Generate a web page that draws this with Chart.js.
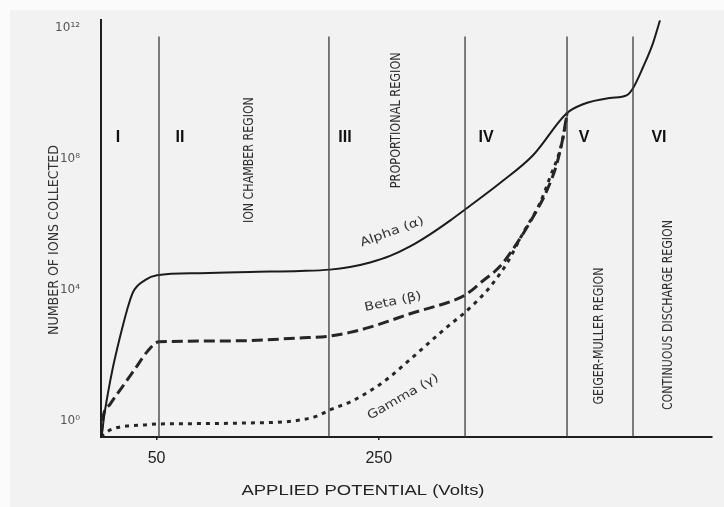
<!DOCTYPE html>
<html>
<head>
<meta charset="utf-8">
<title>Ionization regions of a gas-filled detector</title>
<script src="https://cdn.jsdelivr.net/npm/chart.js@4.4.1/dist/chart.umd.min.js"></script>
<style>
  html, body { margin: 0; padding: 0; background: #f2f2f2; }
  #wrap { width: 724px; height: 507px; }
</style>
</head>
<body>
<div id="wrap"><canvas id="c" width="724" height="507"></canvas></div>
<script>
// Applied potential (volts) and log10 of the number of ions collected, per particle type
const alphaVolts = [0, 0.9, 2.7, 6.3, 10.8, 17.1, 23.4, 28.8, 39.6, 50.4, 89.1, 134.1, 179.1, 206.1, 224.1, 242.2, 260.2, 278.2, 296.2, 314.2, 327.7, 359.2, 388.9, 419.5, 433.9, 458.2, 473.5, 478.9, 487.9, 496.9, 503.2];
const alphaLogIons = [-0.5, -0.38, 0.11, 0.85, 1.64, 2.56, 3.38, 3.93, 4.30, 4.45, 4.51, 4.55, 4.58, 4.62, 4.70, 4.84, 5.04, 5.33, 5.70, 6.12, 6.46, 7.27, 8.12, 9.41, 9.68, 9.87, 9.96, 10.17, 10.81, 11.55, 12.25];

const betaVolts = [0, 1.8, 8.1, 18.9, 30.6, 42.3, 52.2, 118.8, 179.1, 204.3, 224.1, 242.2, 260.2, 278.2, 296.2, 314.2, 327.7, 343.9, 359.2, 374.5, 388.9, 401.5, 410.5, 415.9, 419.5];
const betaLogIons = [-0.5, 0.10, 0.50, 1.02, 1.58, 2.14, 2.41, 2.44, 2.53, 2.58, 2.70, 2.86, 3.06, 3.27, 3.45, 3.64, 3.84, 4.28, 4.72, 5.43, 6.23, 7.05, 7.88, 8.67, 9.41];

const gammaVolts = [0, 3.6, 12.6, 24.3, 39.6, 52.2, 89.1, 134.1, 163.8, 179.1, 194.4, 206.1, 224.1, 242.2, 260.2, 275.5, 289.9, 305.2, 316.0, 325.9, 336.7, 350.2, 365.5, 379.9, 395.2, 404.2, 413.2, 417.7, 419.5];
const gammaLogIons = [-0.5, -0.38, -0.23, -0.16, -0.13, -0.10, -0.09, -0.07, -0.04, 0.02, 0.14, 0.33, 0.57, 0.91, 1.34, 1.79, 2.22, 2.68, 2.99, 3.26, 3.60, 4.09, 4.82, 5.74, 6.66, 7.45, 8.28, 8.98, 9.41];

// Boundaries between the six operating regions (volts)
const regionBounds = [52.2, 205.2, 327.7, 419.5, 478.9];
const regionNumerals = ['I', 'II', 'III', 'IV', 'V', 'VI'];
const regionNames = ['ION CHAMBER REGION', 'PROPORTIONAL REGION', 'GEIGER-MULLER REGION', 'CONTINUOUS DISCHARGE REGION'];
const curveNames = ['Alpha (α)', 'Beta (β)', 'Gamma (γ)'];

// Axis ticks
const xTickVolts = [50, 250];
const yTickExponents = [0, 4, 8, 12];
const yTickLabels = ['10⁰', '10⁴', '10⁸', '10¹²'];

const toPoints = (xs, ys) => xs.map((x, i) => ({ x: x, y: ys[i] }));

const boundaryTop = 11.75;
const boundaryDatasets = regionBounds.map(v => ({
  label: 'boundary',
  data: [{ x: v, y: -0.5 }, { x: v, y: boundaryTop }],
  borderColor: '#3a3a3a',
  borderWidth: 1.3,
  pointRadius: 0,
  tension: 0,
  fill: false
}));

const curveDatasets = [
  {
    label: curveNames[0],
    data: toPoints(alphaVolts, alphaLogIons),
    borderColor: '#1c1c1c',
    borderWidth: 2,
    pointRadius: 0,
    cubicInterpolationMode: 'monotone',
    fill: false
  },
  {
    label: curveNames[1],
    data: toPoints(betaVolts, betaLogIons),
    borderColor: '#262626',
    borderWidth: 3,
    borderDash: [11, 5],
    pointRadius: 0,
    cubicInterpolationMode: 'monotone',
    fill: false
  },
  {
    label: curveNames[2],
    data: toPoints(gammaVolts, gammaLogIons),
    borderColor: '#262626',
    borderWidth: 3,
    borderDash: [4, 5],
    pointRadius: 0,
    cubicInterpolationMode: 'monotone',
    fill: false
  }
];

// Text placed in data coordinates: [text, volts, log10 ions, angle, font, colour, length]
const condensed = '"DejaVu Sans Condensed", "DejaVu Sans", sans-serif';
const numeralFont = 'bold 16px "Liberation Sans", Arial, sans-serif';
const dataLabels = [
  [regionNumerals[0], 15.3, 8.67, 0, numeralFont, '#111', 0],
  [regionNumerals[1], 71.1, 8.67, 0, numeralFont, '#111', 0],
  [regionNumerals[2], 219.6, 8.67, 0, numeralFont, '#111', 0],
  [regionNumerals[3], 346.6, 8.67, 0, numeralFont, '#111', 0],
  [regionNumerals[4], 434.8, 8.67, 0, numeralFont, '#111', 0],
  [regionNumerals[5], 502.3, 8.67, 0, numeralFont, '#111', 0],
  [regionNames[0], 133.2, 7.97, -90, '14px ' + condensed, '#2e2e2e', 126],
  [regionNames[1], 265.6, 9.19, -90, '14px ' + condensed, '#2e2e2e', 136],
  [regionNames[2], 448.3, 2.59, -90, '14px ' + condensed, '#2e2e2e', 137],
  [regionNames[3], 510.4, 3.23, -90, '14px ' + condensed, '#2e2e2e', 190],
  [curveNames[0], 262.0, 5.77, -20, '12px "DejaVu Sans", sans-serif', '#333', 67],
  [curveNames[1], 262.9, 3.63, -12, '12px "DejaVu Sans", sans-serif', '#333', 58],
  [curveNames[2], 271.9, 0.72, -30, '12px "DejaVu Sans", sans-serif', '#333', 80]
];

function drawText(ctx, text, x, y, angleDeg, font, color, length) {
  ctx.save();
  ctx.translate(x, y);
  ctx.rotate(angleDeg * Math.PI / 180);
  ctx.font = font;
  ctx.fillStyle = color;
  ctx.textAlign = 'center';
  ctx.textBaseline = 'middle';
  if (length) {
    const w = ctx.measureText(text).width;
    ctx.scale(length / w, 1);
  }
  ctx.fillText(text, 0, 0);
  ctx.restore();
}

const pagePlugin = {
  id: 'page',
  beforeDraw(chart) {
    const ctx = chart.ctx;
    ctx.save();
    ctx.fillStyle = '#fbfbfb';
    ctx.fillRect(0, 0, chart.width, chart.height);
    ctx.fillStyle = '#f2f2f2';
    ctx.fillRect(10, 10, chart.width - 10, chart.height - 10);
    ctx.restore();
  },
  afterDatasetsDraw(chart) {
    const ctx = chart.ctx;
    const xs = chart.scales.x, ys = chart.scales.y;
    dataLabels.forEach(([t, v, e, a, f, c, len]) => {
      drawText(ctx, t, xs.getPixelForValue(v), ys.getPixelForValue(e), a, f, c, len);
    });
    // axis titles
    drawText(ctx, 'NUMBER OF IONS COLLECTED', 54, 240, -90, '14px ' + condensed, '#333', 190);
    drawText(ctx, 'APPLIED POTENTIAL (Volts)', 363, 491, 0, '15px "Liberation Sans", Arial, sans-serif', '#222', 243);
  }
};

new Chart(document.getElementById('c'), {
  type: 'line',
  data: { datasets: boundaryDatasets.concat(curveDatasets) },
  plugins: [pagePlugin],
  options: {
    responsive: false,
    animation: false,
    layout: { padding: { top: 20, right: 12, bottom: 0, left: 0 } },
    plugins: { legend: { display: false }, tooltip: { enabled: false } },
    scales: {
      x: {
        type: 'linear',
        min: 0,
        max: 550,
        afterFit(scale) { scale.height = 70; },
        afterBuildTicks(scale) { scale.ticks = xTickVolts.map(v => ({ value: v })); },
        grid: { display: true, drawOnChartArea: false, drawTicks: true, tickLength: 3, color: '#222', lineWidth: 1.5 },
        border: { display: true, color: '#1e1e1e', width: 2 },
        ticks: {
          autoSkip: false,
          maxRotation: 0,
          padding: 9,
          color: '#222',
          font: { family: '"Liberation Sans", Arial, sans-serif', size: 16 },
          callback: v => String(v)
        }
      },
      y: {
        type: 'linear',
        min: -0.5,
        max: 12.25,
        afterFit(scale) { scale.width = 101; },
        afterBuildTicks(scale) { scale.ticks = yTickExponents.map(v => ({ value: v })); },
        grid: { display: false },
        border: { display: true, color: '#1e1e1e', width: 2 },
        ticks: {
          autoSkip: false,
          padding: 13,
          color: '#555',
          font: { family: '"DejaVu Sans", sans-serif', size: 12 },
          callback: v => yTickLabels[yTickExponents.indexOf(v)]
        }
      }
    }
  }
});
</script>
</body>
</html>
